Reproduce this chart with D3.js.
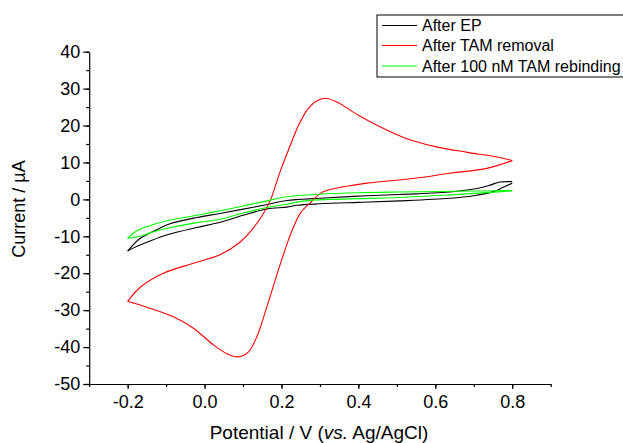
<!DOCTYPE html>
<html>
<head>
<meta charset="utf-8">
<script src="https://cdn.jsdelivr.net/npm/d3@7"></script>
<style>
  html, body { margin: 0; padding: 0; background: #fff; }
  svg { display: block; }
  text { font-family: "Liberation Sans", Arial, sans-serif; fill: #000; }
</style>
</head>
<body>
<svg id="chart" width="623" height="443"></svg>
<script>
// ---- Data (potential V vs Ag/AgCl, current µA) ----
const seriesNames = ["After EP", "After TAM removal", "After 100 nM TAM rebinding"];
const seriesColors = ["#000000", "#ff0000", "#00ff00"];

const xTickValues = [-0.2, 0.0, 0.2, 0.4, 0.6, 0.8];
const xTickLabels = ["-0.2", "0.0", "0.2", "0.4", "0.6", "0.8"];
const yTickValues = [-50, -40, -30, -20, -10, 0, 10, 20, 30, 40];
const yTickLabels = ["-50", "-40", "-30", "-20", "-10", "0", "10", "20", "30", "40"];

// After EP (black) – anodic and cathodic branches
const epAnodic = [[-0.2,-14.0],[-0.168,-10.6],[-0.12,-8.0],[-0.09,-6.6],[-0.02,-4.9],[0.04,-3.8],[0.153,-1.6],[0.214,-0.3],[0.30,0.3],[0.422,1.0],[0.55,1.5],[0.638,2.0],[0.70,2.8],[0.74,3.8],[0.768,4.7],[0.80,4.8]];
const epCathodic = [[0.80,4.4],[0.775,3.2],[0.751,2.1],[0.70,1.0],[0.638,0.3],[0.508,-0.4],[0.40,-0.8],[0.30,-1.2],[0.24,-1.6],[0.214,-2.1],[0.162,-2.6],[0.10,-4.3],[0.04,-6.2],[-0.02,-7.6],[-0.09,-9.4],[-0.14,-11.2],[-0.186,-13.2],[-0.2,-14.0]];

// After TAM removal (red)
const removalAnodic = [[-0.2,-27.6],[-0.165,-23.6],[-0.107,-20.0],[-0.029,-17.3],[0.040,-15.0],[0.092,-11.6],[0.125,-8.0],[0.153,-3.8],[0.172,0.0],[0.196,7.4],[0.222,14.4],[0.245,20.2],[0.268,24.4],[0.29,26.6],[0.315,27.4],[0.345,26.3],[0.40,22.8],[0.456,19.7],[0.53,16.3],[0.60,14.3],[0.68,12.8],[0.76,11.5],[0.80,10.5]];
const removalCathodic = [[0.80,10.5],[0.734,8.4],[0.638,7.1],[0.552,5.8],[0.422,4.4],[0.378,3.7],[0.335,2.9],[0.302,1.7],[0.276,-0.8],[0.250,-3.6],[0.228,-8.3],[0.212,-12.8],[0.192,-19.1],[0.162,-29.1],[0.136,-37.2],[0.115,-41.2],[0.095,-42.5],[0.080,-42.6],[0.058,-41.8],[0.023,-39.4],[-0.029,-34.9],[-0.081,-31.8],[-0.15,-29.2],[-0.2,-27.6]];

// After 100 nM TAM rebinding (green)
const rebindAnodic = [[-0.2,-10.5],[-0.176,-8.5],[-0.15,-7.4],[-0.09,-5.6],[-0.02,-4.3],[0.04,-3.1],[0.10,-1.8],[0.153,-0.6],[0.214,0.7],[0.30,1.4],[0.40,1.8],[0.508,2.0],[0.65,2.2],[0.80,2.4]];
const rebindCathodic = [[0.80,2.3],[0.742,1.9],[0.65,1.3],[0.508,0.5],[0.40,0.2],[0.326,0.0],[0.26,-0.4],[0.214,-1.3],[0.162,-2.2],[0.10,-3.7],[0.04,-5.4],[-0.02,-6.3],[-0.09,-7.7],[-0.14,-9.0],[-0.168,-10.0],[-0.2,-10.5]];

const seriesBranches = [
  [epAnodic, epCathodic],
  [removalAnodic, removalCathodic],
  [rebindAnodic, rebindCathodic]
];

// ---- Drawing ----
const svg = d3.select("#chart");
const x = d3.scaleLinear().domain([-0.3, 0.9]).range([89.2, 550.7]);
const y = d3.scaleLinear().domain([-50, 40]).range([384, 51.7]);

const fontTick = 18, fontLegend = 16;

// minor ticks
const xMinor = d3.range(-3, 10).map(d => d / 10);
const yMinor = d3.range(-50, 41, 5);

const gx = svg.append("g").attr("transform", `translate(0,${y(-50)})`);
gx.call(d3.axisBottom(x).tickValues(xMinor).tickSize(3).tickFormat(""))
  .call(g => g.select(".domain").remove());
gx.append("g").call(d3.axisBottom(x).tickValues(xTickValues).tickSize(5).tickSizeOuter(0)
    .tickFormat((d, i) => xTickLabels[i]))
  .call(g => g.selectAll("text").attr("font-size", fontTick).attr("font-family", "Liberation Sans, Arial, sans-serif").attr("dy", null).attr("y", 24));
gx.selectAll("path.domain").attr("stroke", "#000").attr("stroke-width", 1.2);
gx.selectAll("line").attr("stroke", "#000").attr("stroke-width", 1.2);

const gy = svg.append("g").attr("transform", `translate(${x(-0.3)},0)`);
gy.call(d3.axisLeft(y).tickValues(yMinor).tickSize(3).tickFormat(""))
  .call(g => g.select(".domain").remove());
gy.append("g").call(d3.axisLeft(y).tickValues(yTickValues).tickSize(6).tickSizeOuter(0)
    .tickFormat((d, i) => yTickLabels[i]))
  .call(g => g.selectAll("text").attr("font-size", fontTick).attr("font-family", "Liberation Sans, Arial, sans-serif").attr("x", -9));
gy.selectAll("path.domain").attr("stroke", "#000").attr("stroke-width", 1.2);
gy.selectAll("line").attr("stroke", "#000").attr("stroke-width", 1.2);

// curves
const line = d3.line().x(d => x(d[0])).y(d => y(d[1])).curve(d3.curveCatmullRom.alpha(0.5));
seriesBranches.forEach((branches, si) => {
  branches.forEach(b => {
    svg.append("path").attr("d", line(b)).attr("fill", "none")
      .attr("stroke", seriesColors[si]).attr("stroke-width", 1.1)
      .attr("stroke-linejoin", "round");
  });
});

// axis titles
const xt = svg.append("text").attr("x", 319).attr("y", 439).attr("text-anchor", "middle").attr("font-size", 19);
xt.append("tspan").text("Potential / V (");
xt.append("tspan").attr("font-style", "italic").text("vs.");
xt.append("tspan").text(" Ag/AgCl)");

svg.append("text").attr("transform", `translate(25,${209}) rotate(-90)`)
  .attr("text-anchor", "middle").attr("font-size", 18).text("Current / µA");

// legend
const lg = svg.append("g");
lg.append("rect").attr("x", 377).attr("y", 15).attr("width", 260).attr("height", 62)
  .attr("fill", "#fff").attr("stroke", "#000").attr("stroke-width", 1);
const rowsY = [25.5, 45.5, 66];
seriesNames.forEach((n, i) => {
  lg.append("line").attr("x1", 382).attr("x2", 417).attr("y1", rowsY[i]).attr("y2", rowsY[i])
    .attr("stroke", seriesColors[i]).attr("stroke-width", 1.1);
  lg.append("text").attr("x", 422).attr("y", rowsY[i]).attr("dy", "0.36em")
    .attr("font-size", fontLegend).text(n);
});
</script>
</body>
</html>
